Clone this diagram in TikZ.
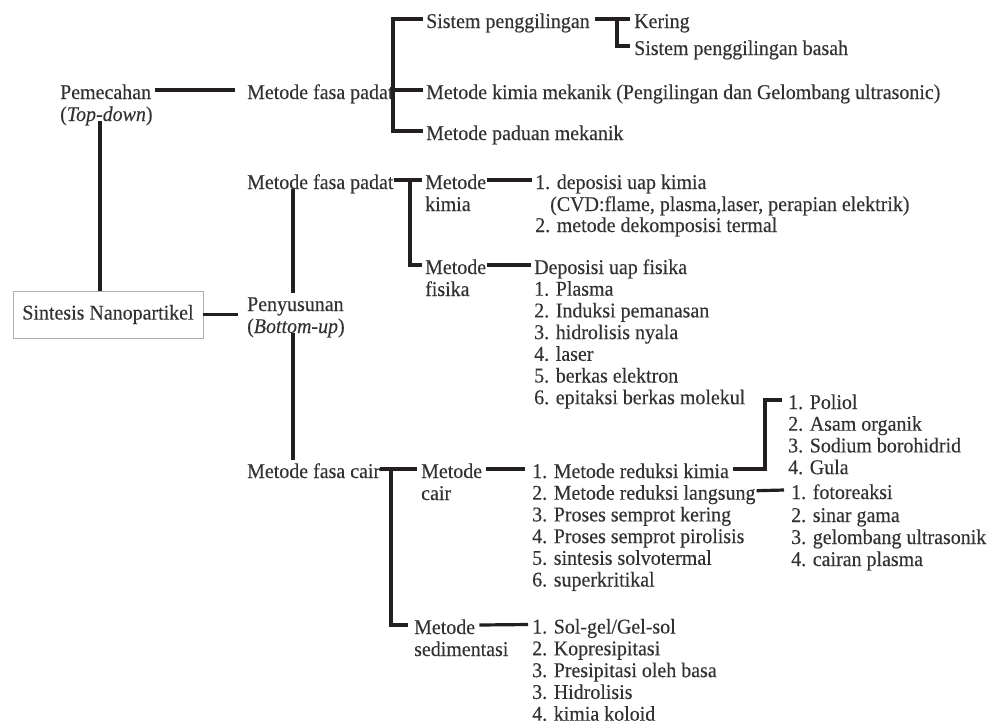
\documentclass[tikz,border=0pt]{standalone}
\usepackage{fontspec}
\setmainfont{Liberation Serif}[FakeStretch=0.95,FakeBold=0.25]
\usetikzlibrary{calc}
\definecolor{ink}{RGB}{35,31,32}
\definecolor{txtc}{RGB}{50,50,50}
\definecolor{boxc}{RGB}{175,175,175}
\begin{document}
\begin{tikzpicture}[x=1pt,y=-1pt,
  lbl/.style={anchor=west,inner sep=0pt,text height=18pt,text depth=0pt,
    font=\fontsize{21}{21}\selectfont,text=txtc},
  conn/.style={draw=ink,line width=3.2pt},
  rootbox/.style={draw=boxc,line width=0.9pt,minimum width=190pt,minimum height=47pt,
    inner sep=0pt,font=\fontsize{21}{21}\selectfont,text=txtc}]
\useasboundingbox (0,0) rectangle (987,724);
% coordinates for vertical line positions
\coordinate (v0) at (100,0);
\coordinate (v1) at (293,0);
\coordinate (b1) at (393,0);
\coordinate (b2) at (617,0);
\coordinate (b3) at (410,0);
\coordinate (b4) at (391,0);
\coordinate (b5) at (765,0);
% root
\node[rootbox] (root) at (108,314.5) {Sintesis Nanopartikel};
% top-down
\node[lbl] (pem1) at (60,90) {Pemecahan};
\node[lbl] (pem2) at (60,112) {(\textit{Top-down})};
\node[lbl] (padat1) at (247,90) {Metode fasa padat};
\node[lbl] (sis) at (426,19) {Sistem penggilingan};
\node[lbl] (kering) at (634,19) {Kering};
\node[lbl] (basah) at (634,46) {Sistem penggilingan basah};
\node[lbl] (kimmek) at (426,90) {Metode kimia mekanik (Pengilingan dan Gelombang ultrasonic)};
\node[lbl] (paduan) at (426,131) {Metode paduan mekanik};
% bottom-up
\node[lbl] (peny1) at (247,302) {Penyusunan};
\node[lbl] (peny2) at (247,324) {(\textit{Bottom-up})};
\node[lbl] (padat2) at (247,180) {Metode fasa padat};
\node[lbl] (kim1) at (425,180) {Metode};
\node[lbl] (kim2) at (425,202) {kimia};
\node[lbl] (fis1) at (425,265) {Metode};
\node[lbl] (fis2) at (425,287) {fisika};
\node[lbl] (kl1) at (535,180) {1. deposisi uap kimia};
\node[lbl] (kl2) at (550,202) {(CVD:flame, plasma,laser, perapian elektrik)};
\node[lbl] (kl3) at (535,223) {2. metode dekomposisi termal};
\node[lbl] (fl0) at (534,265) {Deposisi uap fisika};
\node[lbl] (fl1) at (534,286.7) {1. Plasma};
\node[lbl] (fl2) at (534,308.4) {2. Induksi pemanasan};
\node[lbl] (fl3) at (534,330.1) {3. hidrolisis nyala};
\node[lbl] (fl4) at (534,351.8) {4. laser};
\node[lbl] (fl5) at (534,373.5) {5. berkas elektron};
\node[lbl] (fl6) at (534,395.2) {6. epitaksi berkas molekul};
% liquid phase
\node[lbl] (cair) at (247,469) {Metode fasa cair};
\node[lbl] (mc1) at (421,469) {Metode};
\node[lbl] (mc2) at (421,491) {cair};
\node[lbl] (ms1) at (414,625) {Metode};
\node[lbl] (ms2) at (414,647) {sedimentasi};
\node[lbl] (cl1) at (532,469) {1. Metode reduksi kimia};
\node[lbl] (cl2) at (532,490.7) {2. Metode reduksi langsung};
\node[lbl] (cl3) at (532,512.4) {3. Proses semprot kering};
\node[lbl] (cl4) at (532,534.1) {4. Proses semprot pirolisis};
\node[lbl] (cl5) at (532,555.8) {5. sintesis solvotermal};
\node[lbl] (cl6) at (532,577.5) {6. superkritikal};
\node[lbl] (sl1) at (532,624.5) {1. Sol-gel/Gel-sol};
\node[lbl] (sl2) at (532,646.3) {2. Kopresipitasi};
\node[lbl] (sl3) at (532,668.1) {3. Presipitasi oleh basa};
\node[lbl] (sl4) at (532,689.9) {3. Hidrolisis};
\node[lbl] (sl5) at (532,711.7) {4. kimia koloid};
\node[lbl] (pl1) at (788,400) {1. Poliol};
\node[lbl] (pl2) at (788,421.7) {2. Asam organik};
\node[lbl] (pl3) at (788,443.4) {3. Sodium borohidrid};
\node[lbl] (pl4) at (788,465.1) {4. Gula};
\node[lbl] (dl1) at (791,490) {1. fotoreaksi};
\node[lbl] (dl2) at (791,513) {2. sinar gama};
\node[lbl] (dl3) at (791,535) {3. gelombang ultrasonik};
\node[lbl] (dl4) at (791,557) {4. cairan plasma};
% connectors: top-down
\draw[conn] ([xshift=4]pem1.east) -- ([xshift=-12]padat1.west);
\draw[conn] (padat1.east -| b1) -- ([xshift=-3]kimmek.west);
\draw[conn] ([xshift=-3]sis.west) -- (sis.west -| b1) -- (paduan.west -| b1) -- ([xshift=-3]paduan.west);
\draw[conn] ([xshift=5]sis.east) -- ([xshift=-4]kering.west);
\draw[conn] (kering.west -| b2) -- (basah.west -| b2) -- ([xshift=-4]basah.west);
\draw[conn] (root.north -| v0) -- (pem2.south -| v0);
% connectors: bottom-up
\draw[conn] (root.east) -- ([xshift=-9]root.east -| peny1.west);
\draw[conn] (padat2.south -| v1) -- (peny1.north -| v1);
\draw[conn] (peny2.south -| v1) -- (cair.north -| v1);
\draw[conn] (padat2.east) -- ([xshift=-3]kim1.west);
\draw[conn] (kim1.west -| b3) -- (fis1.west -| b3) -- ([xshift=-3]fis1.west);
\draw[conn] ([xshift=1]kim1.east) -- ([xshift=-3]kl1.west);
\draw[conn] ([xshift=1]fis1.east) -- ([xshift=-3]fl0.west);
\draw[conn] (cair.east) -- ([xshift=-4]mc1.west);
\draw[conn] (mc1.west -| b4) -- (ms1.west -| b4) -- ([xshift=-6]ms1.west);
\draw[conn] ([xshift=4]mc1.east) -- ([xshift=-7]cl1.west);
\draw[conn] ([xshift=4]ms1.east) -- ([xshift=-4]sl1.west);
\draw[conn] ([xshift=4]cl1.east) -- (cl1.east -| b5) -- (pl1.west -| b5) -- ([xshift=-6]pl1.west);
\draw[conn] ([xshift=1]cl2.east) -- ([xshift=-7]dl1.west);
\end{tikzpicture}
\end{document}
